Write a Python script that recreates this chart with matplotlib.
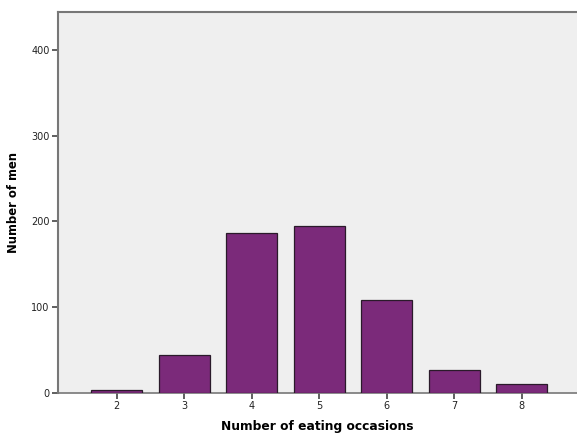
import matplotlib
matplotlib.use("Agg")
import matplotlib.pyplot as plt

categories = [2, 3, 4, 5, 6, 7, 8]
counts = [4, 44, 186, 195, 108, 27, 11]
yticks = [0, 100, 200, 300, 400]

fig = plt.figure(figsize=(5.77, 4.33), dpi=100)
ax = fig.add_axes([0.1005, 0.0924, 0.8995, 0.880])
ax.set_facecolor("#efefef")
ax.bar(categories, counts, width=0.755, color="#7b2a7a", edgecolor="#2a1a2a", linewidth=0.9, zorder=3)
ax.set_xlim(1.13, 8.82)
ax.set_ylim(0, 444)
ax.set_xticks(categories)
ax.set_xticklabels([str(c) for c in categories])
ax.set_yticks(yticks)
ax.tick_params(axis="both", direction="out", length=4, width=1.2, color="#444444",
               labelsize=7, labelcolor="#222222", pad=2)
for s in ["top", "left"]:
    ax.spines[s].set_color("#777777")
    ax.spines[s].set_linewidth(1.5)
ax.spines["right"].set_visible(False)
ax.spines["bottom"].set_color("#777777")
ax.spines["bottom"].set_linewidth(1.2)
ax.set_xlabel("Number of eating occasions", fontsize=8.8, fontweight="bold", labelpad=6)
ax.set_ylabel("Number of men", fontsize=8.4, fontweight="bold", labelpad=8)
fig.savefig("out.png", dpi=100)
